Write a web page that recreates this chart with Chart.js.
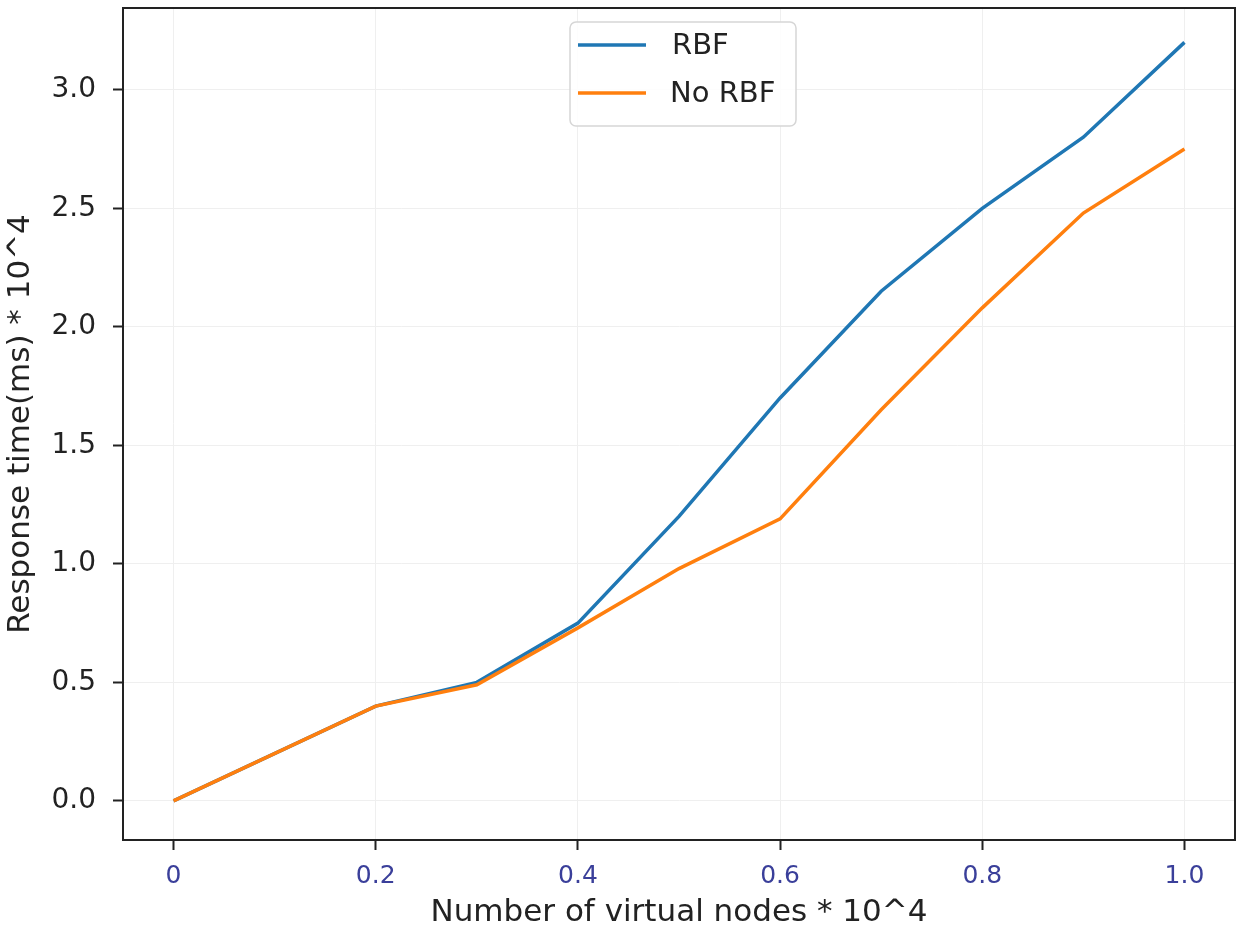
<!DOCTYPE html>
<html lang="en">
<head>
<meta charset="UTF-8">
<title>RBF response time</title>
<script src="https://cdn.jsdelivr.net/npm/chart.js"></script>
<style>
  body { margin: 0; background: white; }
  #wrap { width: 1250px; height: 933px; }
</style>
</head>
<body>
<div id="wrap"><canvas id="chart" width="1250" height="933"></canvas></div>
<script>
const nodes = [0, 0.2, 0.3, 0.4, 0.5, 0.6, 0.7, 0.8, 0.9, 1.0];
const rbf = [0, 0.40, 0.50, 0.75, 1.20, 1.70, 2.15, 2.50, 2.80, 3.20];
const noRbf = [0, 0.40, 0.49, 0.73, 0.98, 1.19, 1.65, 2.08, 2.48, 2.75];
const xTicks = [0, 0.2, 0.4, 0.6, 0.8, 1.0];
const yTicks = [0, 0.5, 1.0, 1.5, 2.0, 2.5, 3.0];

const FONT = "'DejaVu Sans', sans-serif";

// frame + legend box like matplotlib
const framePlugin = {
  id: 'frame',
  afterDraw(chart) {
    const { ctx, chartArea: a } = chart;
    ctx.save();
    ctx.strokeStyle = '#222';
    ctx.lineWidth = 2;
    ctx.strokeRect(a.left, a.top, a.right - a.left, a.bottom - a.top);

    // legend
    const bx = 570, by = 22, bw = 226, bh = 104, r = 6;
    ctx.beginPath();
    ctx.moveTo(bx + r, by);
    ctx.arcTo(bx + bw, by, bx + bw, by + bh, r);
    ctx.arcTo(bx + bw, by + bh, bx, by + bh, r);
    ctx.arcTo(bx, by + bh, bx, by, r);
    ctx.arcTo(bx, by, bx + bw, by, r);
    ctx.closePath();
    ctx.fillStyle = 'rgba(255,255,255,0.85)';
    ctx.fill();
    ctx.strokeStyle = '#d6d6d6';
    ctx.lineWidth = 1.5;
    ctx.stroke();

    ctx.font = '29px ' + FONT;
    ctx.textBaseline = 'middle';
    ctx.fillStyle = '#222';
    chart.data.datasets.forEach((ds, i) => {
      const y = by + 23 + i * 48;
      ctx.strokeStyle = ds.borderColor;
      ctx.lineWidth = 3.5;
      ctx.beginPath();
      ctx.moveTo(578, y);
      ctx.lineTo(646, y);
      ctx.stroke();
      ctx.fillText(ds.label, i === 0 ? 672 : 670, y + 1);
    });
    ctx.restore();
  }
};

new Chart(document.getElementById('chart').getContext('2d'), {
  type: 'line',
  data: {
    datasets: [
      { label: 'RBF', data: nodes.map((x, i) => ({ x, y: rbf[i] })), borderColor: '#1f77b4', borderWidth: 3.5, pointRadius: 0, fill: false, tension: 0, order: 1 },
      { label: 'No RBF', data: nodes.map((x, i) => ({ x, y: noRbf[i] })), borderColor: '#ff7f0e', borderWidth: 3.5, pointRadius: 0, fill: false, tension: 0, order: 0 }
    ]
  },
  options: {
    responsive: false,
    animation: false,
    layout: { padding: { top: 8, right: 15, left: 0, bottom: 0 } },
    plugins: { legend: { display: false }, tooltip: { enabled: false } },
    scales: {
      x: {
        type: 'linear',
        min: -0.05,
        max: 1.05,
        afterBuildTicks: (s) => { s.ticks = xTicks.map(v => ({ value: v })); },
        afterFit: (s) => { s.height = 93; s.paddingLeft = 0; s.paddingRight = 0; },
        grid: { color: '#efefef', lineWidth: 1, tickColor: '#222', tickLength: 10, tickWidth: 2 },
        border: { color: '#222', width: 2 },
        ticks: {
          color: '#3a3f9a', padding: 11, maxRotation: 0,
          font: { family: FONT, size: 25 },
          callback: (v) => v === 0 ? '0' : v.toFixed(1)
        },
        title: { display: true, text: 'Number of virtual nodes * 10^4', color: '#222', font: { family: FONT, size: 31 }, padding: { bottom: 1, top: 0 } }
      },
      y: {
        min: -0.165,
        max: 3.345,
        afterBuildTicks: (s) => { s.ticks = yTicks.map(v => ({ value: v })); },
        afterFit: (s) => { s.width = 123; s.paddingTop = 0; s.paddingBottom = 0; },
        grid: { color: '#efefef', lineWidth: 1, tickColor: '#222', tickLength: 10, tickWidth: 2 },
        border: { color: '#222', width: 2 },
        ticks: {
          color: '#222', padding: 17,
          font: { family: FONT, size: 28 },
          callback: (v) => v.toFixed(1)
        },
        title: { display: true, text: 'Response time(ms) * 10^4', color: '#222', font: { family: FONT, size: 31 }, padding: { top: 2, bottom: 0 } }
      }
    }
  },
  plugins: [framePlugin]
});
</script>
</body>
</html>
